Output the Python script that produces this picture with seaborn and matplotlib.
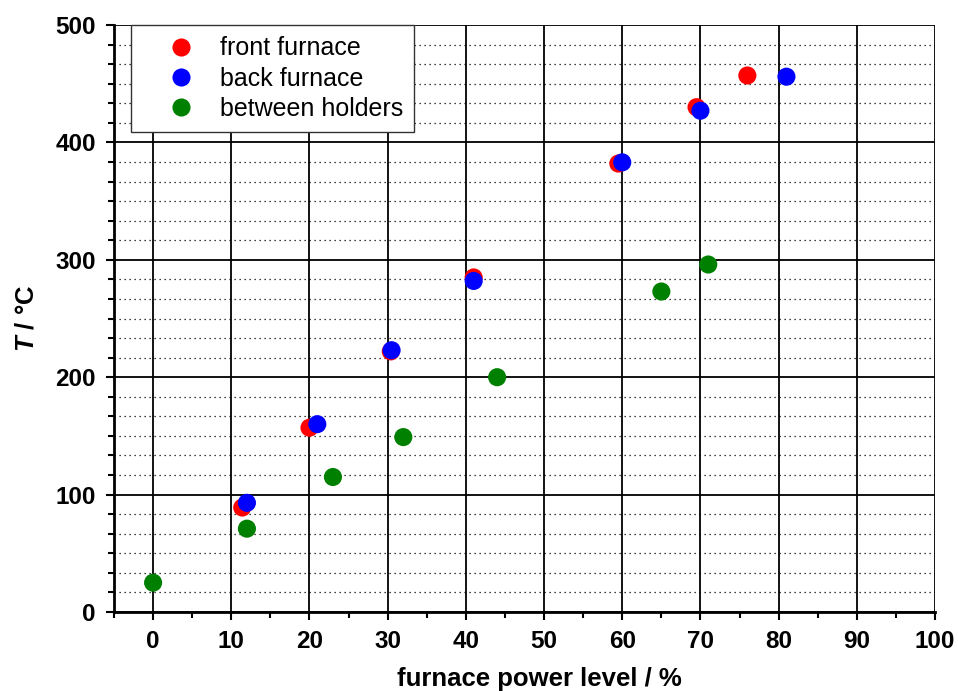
import seaborn as sns
import numpy as np
import pandas as pd
import matplotlib.pyplot as plt
from matplotlib.ticker import MultipleLocator

# values
front_x = [11.4, 20, 30.4, 41, 59.5, 69.5, 76]
front_T = [89, 157, 222, 285, 382, 430, 457]
back_x = [12, 21, 30.5, 41, 60, 70, 81]
back_T = [93, 160, 223, 282, 383, 427, 456]
between_x = [0, 12, 23, 32, 44, 65, 71]
between_T = [25, 71, 115, 149, 200, 273, 296]
series = ["front furnace", "back furnace", "between holders"]
colors = ["#ff0000", "#0000ff", "#008000"]

df = pd.concat([
    pd.DataFrame({"power": front_x, "T": front_T, "pos": series[0]}),
    pd.DataFrame({"power": back_x, "T": back_T, "pos": series[1]}),
    pd.DataFrame({"power": between_x, "T": between_T, "pos": series[2]}),
])

sns.set_style("white")
plt.rcParams['font.family'] = ['Liberation Sans', 'DejaVu Sans']
plt.rcParams['text.color'] = 'black'
plt.rcParams['axes.labelcolor'] = 'black'
plt.rcParams['xtick.color'] = 'black'
plt.rcParams['ytick.color'] = 'black'
plt.rcParams['mathtext.fontset'] = 'custom'
plt.rcParams['mathtext.it'] = 'Liberation Sans:italic:bold'
plt.rcParams['mathtext.rm'] = 'Liberation Sans:bold'

fig = plt.figure(figsize=(9.58, 6.91), dpi=100)
ax = fig.add_axes([0.119, 0.1143, 0.857, 0.8495])

sns.scatterplot(data=df, x="power", y="T", hue="pos", palette=colors,
                s=170, edgecolor="none", linewidth=0, ax=ax, zorder=3)

ax.set_xlim(-5, 100)
ax.set_ylim(0, 500)
ax.xaxis.set_major_locator(MultipleLocator(10))
ax.xaxis.set_minor_locator(MultipleLocator(5))
ax.yaxis.set_major_locator(MultipleLocator(100))
ax.yaxis.set_minor_locator(MultipleLocator(100 / 6))

ax.grid(which="major", color="black", linewidth=1.3, linestyle="-")
ax.grid(which="minor", axis="y", color="black", linewidth=0.9, linestyle=(0, (1, 3)))
ax.set_axisbelow(True)

for s in ["top", "right"]:
    ax.spines[s].set_visible(False)
for s in ["left", "bottom"]:
    ax.spines[s].set_color("black")
    ax.spines[s].set_linewidth(2)

ax.tick_params(which="major", direction="out", length=6, width=1.5,
               labelsize=17.5, pad=7, left=True, bottom=True)
ax.tick_params(which="minor", direction="out", length=4, width=1.5,
               left=True, bottom=True)
for lab in ax.get_xticklabels() + ax.get_yticklabels():
    lab.set_fontweight("bold")

ax.set_xlabel("furnace power level / %", fontsize=18.5, fontweight="bold")
ax.xaxis.set_label_coords(0.518, -0.093)
ax.set_ylabel(r"$T$ / °C", fontsize=18.5, fontweight="bold", labelpad=12)

leg = ax.legend(loc="upper left", bbox_to_anchor=(0.021, 1.0), frameon=True,
                fancybox=False, edgecolor="#333333", framealpha=1,
                prop={"family": "Liberation Sans", "size": 18},
                handletextpad=0.0, borderpad=0.45, labelspacing=0.25,
                markerscale=1.0, borderaxespad=0, handlelength=3.1)
leg.get_frame().set_linewidth(1.0)

fig.savefig("out.png", dpi=100)
